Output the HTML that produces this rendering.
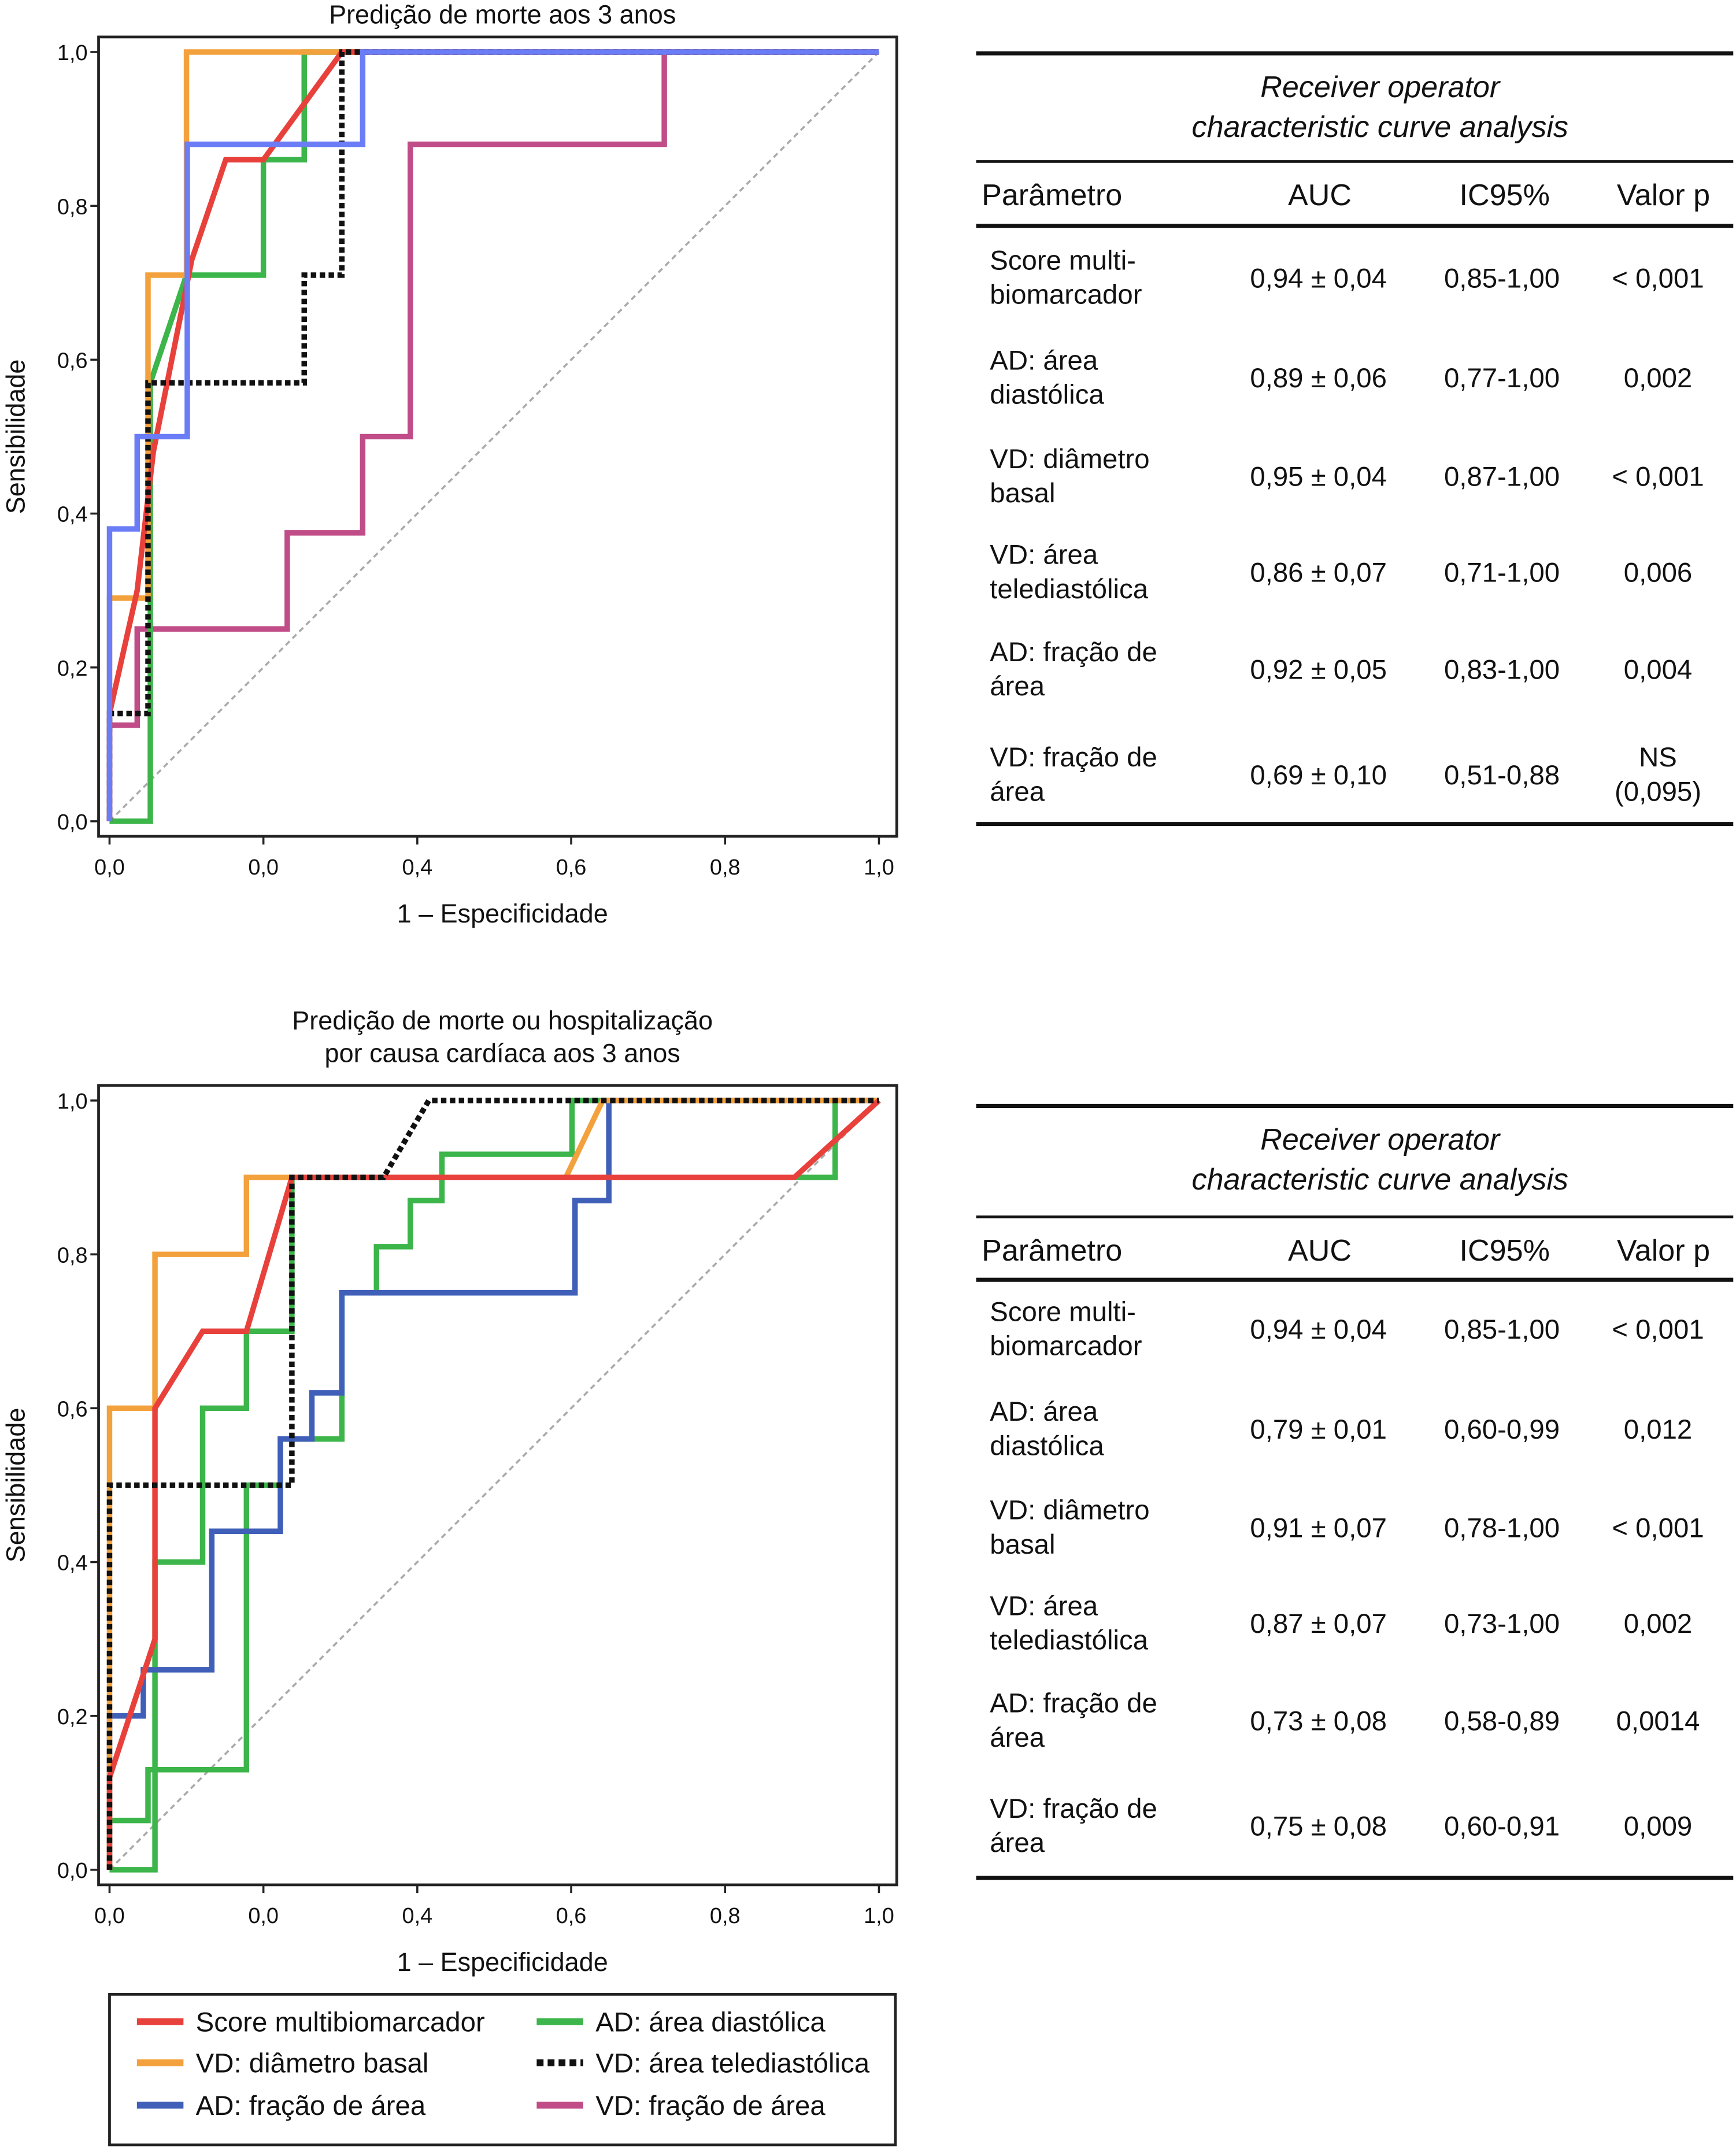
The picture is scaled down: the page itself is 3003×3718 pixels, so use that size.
<!DOCTYPE html>
<html><head><meta charset="utf-8"><style>
html,body{margin:0;padding:0;background:#fff}
svg{display:block}
text{font-family:"Liberation Sans",Arial,sans-serif;fill:#111}
</style></head><body>
<svg id="s" width="3003" height="3718" viewBox="0 0 1268 1570" preserveAspectRatio="none" xmlns="http://www.w3.org/2000/svg">
<g id="c1"></g>
<g id="c2"></g>
<g id="t1"></g>
<g id="t2"></g>
<g id="lg"></g>
</svg>
<script>
const xTicks=["0,0","0,0","0,4","0,6","0,8","1,0"];
const yTicks=["0,0","0,2","0,4","0,6","0,8","1,0"];
const seriesNames=["Score multibiomarcador","AD: área diastólica","VD: diâmetro basal","VD: área telediastólica","AD: fração de área","VD: fração de área"];
const top_red=[[0,0],[0,.14],[.036,.3],[.057,.48],[.107,.73],[.151,.86],[.2,.86],[.302,1],[1,1]];
const top_orange=[[0,0],[0,.29],[.05,.29],[.05,.71],[.1,.71],[.1,1],[1,1]];
const top_green=[[0,0],[.053,0],[.053,.36],[.053,.57],[.1,.71],[.2,.71],[.2,.86],[.253,.86],[.253,1],[1,1]];
const top_blue=[[0,0],[0,.38],[.036,.38],[.036,.5],[.101,.5],[.101,.88],[.329,.88],[.329,1],[1,1]];
const top_black=[[0,0],[0,.14],[.05,.14],[.05,.57],[.253,.57],[.253,.71],[.302,.71],[.302,1],[1,1]];
const top_magenta=[[0,0],[0,.125],[.036,.125],[.036,.25],[.231,.25],[.231,.375],[.329,.375],[.329,.5],[.391,.5],[.391,.88],[.721,.88],[.721,1],[1,1]];
const bot_red=[[0,0],[0,.12],[.059,.3],[.059,.6],[.121,.7],[.178,.7],[.237,.9],[.89,.9],[1,1]];
const bot_orange=[[0,0],[0,.6],[.059,.6],[.059,.8],[.178,.8],[.178,.9],[.593,.9],[.641,1],[1,1]];
const bot_green=[[0,0],[0,.064],[.05,.064],[.05,.13],[.178,.13],[.178,.5],[.222,.5],[.222,.56],[.302,.56],[.302,.75],[.347,.75],[.347,.81],[.391,.81],[.391,.87],[.432,.87],[.432,.93],[.601,.93],[.601,1],[1,1]];
const bot_green2=[[0,0],[.059,0],[.059,.4],[.121,.4],[.121,.6],[.178,.6],[.178,.7],[.237,.7],[.237,.9]];
const bot_green3=[[.89,.9],[.943,.9],[.943,1]];
const bot_blue=[[0,0],[0,.2],[.044,.2],[.044,.26],[.133,.26],[.133,.44],[.222,.44],[.222,.56],[.263,.56],[.263,.62],[.302,.62],[.302,.75],[.605,.75],[.605,.87],[.649,.87],[.649,1],[1,1]];
const bot_black=[[0,0],[0,.5],[.237,.5],[.237,.9],[.356,.9],[.415,1],[1,1]];
const tab1=[["Score multi-","biomarcador","0,94 ± 0,04","0,85-1,00","< 0,001",""],["AD: área","diastólica","0,89 ± 0,06","0,77-1,00","0,002",""],["VD: diâmetro","basal","0,95 ± 0,04","0,87-1,00","< 0,001",""],["VD: área","telediastólica","0,86 ± 0,07","0,71-1,00","0,006",""],["AD: fração de","área","0,92 ± 0,05","0,83-1,00","0,004",""],["VD: fração de","área","0,69 ± 0,10","0,51-0,88","NS","(0,095)"]];
const tab2=[["Score multi-","biomarcador","0,94 ± 0,04","0,85-1,00","< 0,001",""],["AD: área","diastólica","0,79 ± 0,01","0,60-0,99","0,012",""],["VD: diâmetro","basal","0,91 ± 0,07","0,78-1,00","< 0,001",""],["VD: área","telediastólica","0,87 ± 0,07","0,73-1,00","0,002",""],["AD: fração de","área","0,73 ± 0,08","0,58-0,89","0,0014",""],["VD: fração de","área","0,75 ± 0,08","0,60-0,91","0,009",""]];
const NS="http://www.w3.org/2000/svg";
function mk(p,tag,at,txt){const e=document.createElementNS(NS,tag);for(const k in at)e.setAttribute(k,at[k]);if(txt!==undefined)e.textContent=txt;p.appendChild(e);return e;}
function chart(g,y1,y0,titles,titleY,series){
  const X=v=>80+v*562, Y=v=>y0-v*(y0-y1);
  const fr=mk(g,'rect',{x:72,y:y1-11,width:583,height:y0-y1+22,fill:'none',stroke:'#222','stroke-width':2});
  
  titles.forEach((t,i)=>{const e=mk(g,'text',{x:367,y:titleY+i*24,'font-size':19,'text-anchor':'middle'},t);});
  xTicks.forEach((t,i)=>{const v=i/5;mk(g,'line',{x1:X(v),x2:X(v),y1:y0+11,y2:y0+17,stroke:'#222','stroke-width':1.5});
    const e=mk(g,'text',{x:X(v),y:y0+39,'font-size':16,'text-anchor':'middle'},t);});
  yTicks.forEach((t,i)=>{const v=i/5;mk(g,'line',{x1:66,x2:72,y1:Y(v),y2:Y(v),stroke:'#222','stroke-width':1.5});
    const e=mk(g,'text',{x:64,y:Y(v)+6,'font-size':16,'text-anchor':'end'},t);});
  let e=mk(g,'text',{x:367,y:y0+74,'font-size':19,'text-anchor':'middle'},"1 – Especificidade");
  e=mk(g,'text',{x:0,y:0,'font-size':19,'text-anchor':'middle',transform:`translate(18,${(y0+y1)/2}) rotate(-90)`},"Sensibilidade");
  e=mk(g,'line',{x1:X(0),y1:Y(0),x2:X(1),y2:Y(1),stroke:'#aaa','stroke-width':1.5,'stroke-dasharray':'4,3'});
  series.forEach(s=>{const pts=s[0].map(p=>X(p[0]).toFixed(1)+','+Y(p[1]).toFixed(1)).join(' ');
    const at={points:pts,fill:'none',stroke:s[1],'stroke-width':4,'stroke-linejoin':'miter'};if(s[3])at['stroke-dasharray']='4,2.5';
    const l=mk(g,'polyline',at);});
}
const R='#e8413c',O='#f3a13c',G='#3cb54a',LB='#6a7cf6',DB='#3f5fb8',M='#c04c88',K='#111';
chart(document.getElementById('c1'),38,600,["Predição de morte aos 3 anos"],17,[[top_magenta,M,'line-vd-fracao-area'],[top_green,G,'line-ad-area-diastolica'],[top_orange,O,'line-vd-diametro-basal'],[top_red,R,'line-score'],[top_black,K,'line-vd-area-telediastolica',1],[top_blue,LB,'line-ad-fracao-area']]);
chart(document.getElementById('c2'),804,1366,["Predição de morte ou hospitalização","por causa cardíaca aos 3 anos"],752,[[bot_green3,G,'line-ad-area-diastolica-end'],[bot_green2,G,'line-ad-area-diastolica-b'],[bot_green,G,'line-ad-area-diastolica'],[bot_blue,DB,'line-ad-fracao-area'],[bot_orange,O,'line-vd-diametro-basal'],[bot_red,R,'line-score'],[bot_black,K,'line-vd-area-telediastolica',1]]);
function table(g,yTop,yHead,yHeadLine,rows,rowYs,yEnd){
  [[yTop,3],[yHead,2],[yHeadLine,3],[yEnd,3]].forEach(a=>mk(g,'line',{x1:713,x2:1266,y1:a[0],y2:a[0],stroke:'#111','stroke-width':a[1]}));
  let e=mk(g,'text',{x:1008,y:yTop+32,'font-size':22,'font-style':'italic','text-anchor':'middle'},"Receiver operator");
  e=mk(g,'text',{x:1008,y:yTop+61,'font-size':22,'font-style':'italic','text-anchor':'middle'},"characteristic curve analysis");
  const hy=yHead+32;
  [["Parâmetro",717,'start'],["AUC",964,'middle'],["IC95%",1099,'middle'],["Valor p",1215,'middle']].forEach(h=>{const t=mk(g,'text',{x:h[1],y:hy,'font-size':22,'text-anchor':h[2]},h[0]);});
  rows.forEach((r,i)=>{const y=rowYs[i];
    [[r[0],723,y-6,'start'],[r[1],723,y+19,'start'],[r[2],963,y+7,'middle'],[r[3],1097,y+7,'middle']].forEach(c=>{const t=mk(g,'text',{x:c[1],y:c[2],'font-size':20,'text-anchor':c[3]},c[0]);});
    if(r[5]){[[r[4],y-6],[r[5],y+19]].forEach(c=>{const t=mk(g,'text',{x:1211,y:c[1],'font-size':20,'text-anchor':'middle'},c[0]);});}
    else{const t=mk(g,'text',{x:1211,y:y+7,'font-size':20,'text-anchor':'middle'},r[4]);}
  });
}
table(document.getElementById('t1'),39,118,165,tab1,[203,276,348,418,489,566],602);
table(document.getElementById('t2'),808,889,935,tab2,[971,1044,1116,1186,1257,1334],1372);
const lg=document.getElementById('lg');
mk(lg,'rect',{x:80,y:1457,width:574,height:110,fill:'none',stroke:'#222','stroke-width':2});
const lgItems=[[seriesNames[0],R,0,100,1477],[seriesNames[1],G,0,392,1477],[seriesNames[2],O,0,100,1507],[seriesNames[3],K,1,392,1507],[seriesNames[4],DB,0,100,1538],[seriesNames[5],M,0,392,1538]];
lgItems.forEach(it=>{const at={x1:it[3],x2:it[3]+34,y1:it[4],y2:it[4],stroke:it[1],'stroke-width':5};if(it[2])at['stroke-dasharray']='5,3';
  const l=mk(lg,'line',at);
  const t=mk(lg,'text',{x:it[3]+43,y:it[4]+7,'font-size':20},it[0]);});
</script>
</body></html>
